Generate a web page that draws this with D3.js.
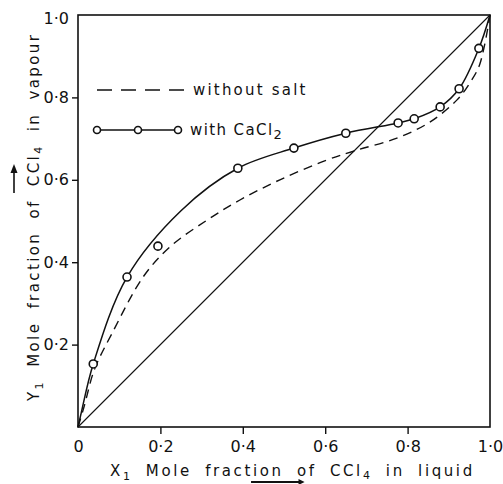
<!DOCTYPE html>
<html>
<head>
<meta charset="utf-8">
<script src="https://cdn.jsdelivr.net/npm/d3@7"></script>
<style>
  body { margin: 0; background: #fff; }
  svg { display: block; }
  text { font-family: "DejaVu Sans", sans-serif; fill: #111; }
</style>
</head>
<body>
<div id="chart"></div>
<script>
// measured points, with CaCl2 (x1 liquid, y1 vapour)
var caclX = [0.037, 0.119, 0.194, 0.388, 0.524, 0.650, 0.777, 0.816, 0.879, 0.925, 0.973];
var caclY = [0.153, 0.364, 0.439, 0.628, 0.677, 0.713, 0.738, 0.748, 0.777, 0.821, 0.919];

// smooth curve drawn through the CaCl2 data
var withSaltX = [0, 0.008, 0.037, 0.119, 0.25, 0.388, 0.524, 0.650, 0.777, 0.816, 0.879, 0.925, 0.973, 1.0];
var withSaltY = [0, 0.035, 0.153, 0.364, 0.525, 0.628, 0.677, 0.713, 0.738, 0.748, 0.777, 0.821, 0.919, 1.0];

// curve without salt (dashed)
var noSaltX = [0, 0.015, 0.04, 0.083, 0.158, 0.223, 0.313, 0.393, 0.49, 0.604, 0.677, 0.774, 0.854, 0.920, 0.951, 0.975, 1.0];
var noSaltY = [0, 0.05, 0.14, 0.228, 0.364, 0.437, 0.502, 0.551, 0.600, 0.648, 0.672, 0.701, 0.740, 0.794, 0.835, 0.88, 1.0];

var xTicks = [0, 0.2, 0.4, 0.6, 0.8, 1.0];
var yTicks = [0.2, 0.4, 0.6, 0.8, 1.0];

var W = 503, H = 484;
var plotL = 78, plotR = 490, plotT = 15, plotB = 427;

var svg = d3.select("#chart").append("svg")
    .attr("width", W)
    .attr("height", H);

var x = d3.scaleLinear().domain([0, 1]).range([plotL, plotR]);
var y = d3.scaleLinear().domain([0, 1]).range([plotB, plotT]);

function fmt(d) { return d === 0 ? "0" : d3.format(".1f")(d).replace(".", "\u00b7"); }

// frame
svg.append("rect")
    .attr("x", plotL).attr("y", plotT)
    .attr("width", plotR - plotL).attr("height", plotB - plotT)
    .attr("fill", "none").attr("stroke", "#111").attr("stroke-width", 1.6);

// axes
var xAxis = svg.append("g")
    .attr("transform", "translate(0," + plotB + ")")
    .call(d3.axisBottom(x).tickValues(xTicks).tickSize(7).tickPadding(7).tickFormat(fmt));
xAxis.select(".domain").remove();
xAxis.selectAll(".tick line").attr("stroke", "#111").attr("stroke-width", 1.4)
    .attr("opacity", function(d) { return d === 0 || d === 1 ? 0 : 1; });
xAxis.selectAll("text").style("font-size", "16px").attr("fill", "#111");
xAxis.selectAll(".tick").filter(function(d) { return d === 1; }).select("text").attr("dx", 0);

var yAxis = svg.append("g")
    .attr("transform", "translate(" + plotL + ",0)")
    .call(d3.axisLeft(y).tickValues(yTicks).tickSize(6).tickPadding(3).tickFormat(fmt));
yAxis.select(".domain").remove();
yAxis.selectAll(".tick line").attr("stroke", "#111").attr("stroke-width", 1.4)
    .attr("opacity", function(d) { return d === 1 ? 0 : 1; });
yAxis.selectAll("text").style("font-size", "16px").attr("fill", "#111");
yAxis.selectAll(".tick").filter(function(d) { return d === 1; }).select("text").attr("dy", "0.55em");

// diagonal x = y
svg.append("path")
    .attr("d", d3.line()([[x(0), y(0)], [x(1), y(1)]]))
    .attr("stroke", "#111").attr("stroke-width", 1.1).attr("fill", "none");

var curve = d3.line()
    .x(function(d) { return x(d[0]); })
    .y(function(d) { return y(d[1]); })
    .curve(d3.curveCatmullRom.alpha(0.5));

svg.append("path")
    .datum(d3.zip(noSaltX, noSaltY))
    .attr("d", curve)
    .attr("fill", "none").attr("stroke", "#111").attr("stroke-width", 1.4)
    .attr("stroke-dasharray", "9,6");

svg.append("path")
    .datum(d3.zip(withSaltX, withSaltY))
    .attr("d", curve)
    .attr("fill", "none").attr("stroke", "#111").attr("stroke-width", 1.5);

svg.selectAll("circle.pt")
    .data(d3.zip(caclX, caclY))
    .enter().append("circle")
    .attr("class", "pt")
    .attr("cx", function(d) { return x(d[0]); })
    .attr("cy", function(d) { return y(d[1]); })
    .attr("r", 4)
    .attr("fill", "#fff").attr("stroke", "#111").attr("stroke-width", 1.6);

// legend
var lg = svg.append("g");
lg.append("line")
    .attr("x1", 97).attr("x2", 184).attr("y1", 90).attr("y2", 90)
    .attr("stroke", "#111").attr("stroke-width", 1.4).attr("stroke-dasharray", "15,9");
lg.append("text").attr("x", 193).attr("y", 95)
    .style("font-size", "15px").style("letter-spacing", "2.2px")
    .text("without salt");
lg.append("line")
    .attr("x1", 97).attr("x2", 178).attr("y1", 130).attr("y2", 130)
    .attr("stroke", "#111").attr("stroke-width", 1.4);
lg.selectAll("circle")
    .data([97, 138, 178])
    .enter().append("circle")
    .attr("cx", function(d) { return d; }).attr("cy", 130).attr("r", 3.5)
    .attr("fill", "#fff").attr("stroke", "#111").attr("stroke-width", 1.6);
var lt = lg.append("text").attr("x", 190).attr("y", 135)
    .style("font-size", "15px").style("letter-spacing", "1.4px");
lt.append("tspan").text("with CaCl");
lt.append("tspan").attr("dy", 4).style("font-size", "13px").text("2");

// x axis title
var xt = svg.append("text")
    .attr("x", 110).attr("y", 476)
    .style("font-size", "15px").style("letter-spacing", "2.6px").style("word-spacing", "6px");
xt.append("tspan").text("X");
xt.append("tspan").attr("dy", 4).style("font-size", "11px").text("1");
xt.append("tspan").attr("dy", -4).text("  Mole  fraction  of  CCl");
xt.append("tspan").attr("dy", 3).style("font-size", "11px").text("4");
xt.append("tspan").attr("dy", -3).text(" in  liquid");

// arrow under x title
svg.append("path")
    .attr("d", d3.line()([[x(0.42), 482], [x(0.54), 482]]))
    .attr("stroke", "#111").attr("stroke-width", 2);
svg.append("path")
    .attr("d", d3.line()([[x(0.54) - 2, 479], [x(0.55), 482], [x(0.54) - 2, 485]]))
    .attr("fill", "#111");

// y axis title
var yt = svg.append("text")
    .attr("transform", "translate(39,401) rotate(-90)")
    .style("font-size", "15px").style("letter-spacing", "2.4px").style("word-spacing", "6px");
yt.append("tspan").text("Y");
yt.append("tspan").attr("dy", 4).style("font-size", "11px").text("1");
yt.append("tspan").attr("dy", -4).text("  Mole  fraction  of  CCl");
yt.append("tspan").attr("dy", 3).style("font-size", "11px").text("4");
yt.append("tspan").attr("dy", -3).text(" in  vapour");

// arrow beside y title
svg.append("path")
    .attr("d", d3.line()([[14, 193], [14, 170]]))
    .attr("stroke", "#111").attr("stroke-width", 1.6);
svg.append("path")
    .attr("d", d3.line()([[10.5, 173], [14, 164], [17.5, 173]]))
    .attr("fill", "#111");
</script>
</body>
</html>
